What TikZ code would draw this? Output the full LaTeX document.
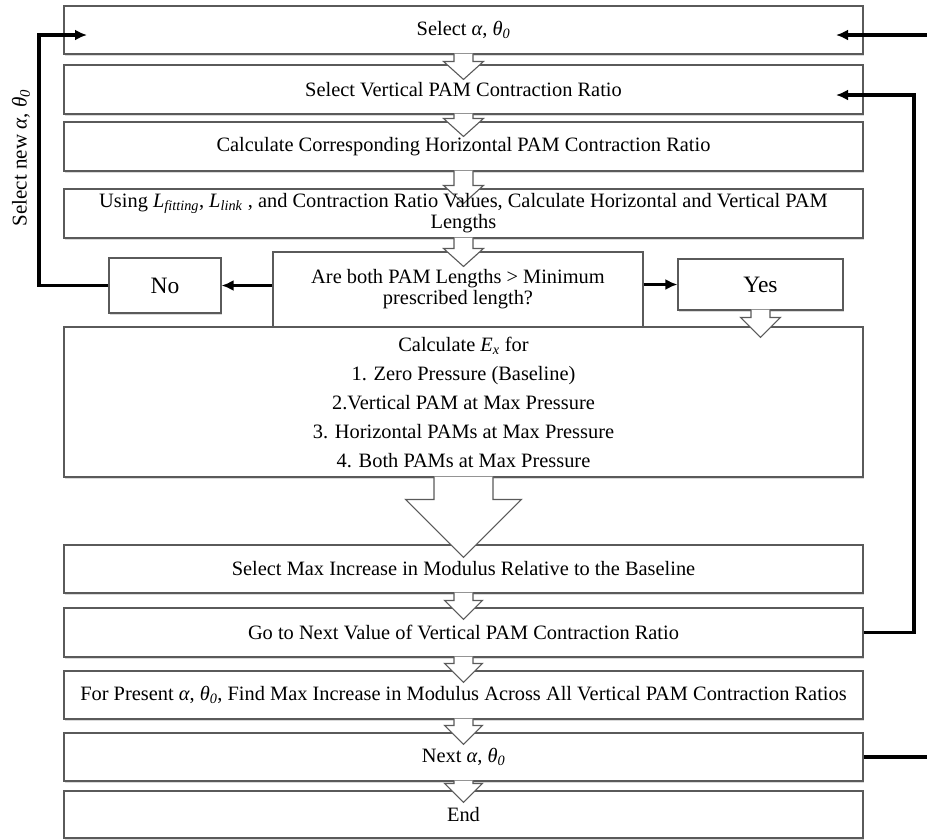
\documentclass[tikz,border=0pt]{standalone}
\usepackage{fontspec}
\setmainfont{Liberation Serif}
\usetikzlibrary{calc,arrows.meta,shadows}
\definecolor{boxgray}{HTML}{5A5A5A}
\newcommand{\fs}{\fontsize{20.4}{21}\selectfont}
\newcommand{\al}{\textit{α}}
\newcommand{\thz}{\textit{θ\textsubscript{0}}}
% hollow block arrow: #1 source, #2 target, #3 shaft half, #4 head half, #5 head length, #6 overlap into target
\newcommand{\blk}[6]{%
  \filldraw[blockarrow] let \p1=(#1.south), \p2=($(#1.south |- #2.north)+(0,#6)$) in
    (\x1-#3pt,\y1+1pt) -- (\x1-#3pt,\y2+#5pt) -- (\x1-#4pt,\y2+#5pt) -- (\x2,\y2)
    -- (\x1+#4pt,\y2+#5pt) -- (\x1+#3pt,\y2+#5pt) -- (\x1+#3pt,\y1+1pt);}
\begin{document}
\begin{tikzpicture}[x=1pt,y=-1pt,
  box/.style={draw=boxgray, line width=1.1pt, fill=white, inner sep=2pt, align=center, font=\fs,
    drop shadow={shadow xshift=1.3pt, shadow yshift=-1.5pt, opacity=0.3}},
  boxtext/.style={inner sep=2pt, align=center, font=\fs},
  bigtext/.style={font=\fontsize{23.5}{26}\selectfont},
  blockarrow/.style={draw=boxgray, line width=1.1pt, fill=white, line join=miter},
  loopline/.style={line width=3.2pt, black, -{Latex[length=12pt,width=11pt]}},
  plainline/.style={line width=3.2pt, black}]
\useasboundingbox (0,0) rectangle (927,839);
% main column
\node[box, minimum width=799pt, minimum height=48pt] (b1) at (463.5,30) {Select \al, \thz};
\node[box, minimum width=799pt, minimum height=49pt] (b2) at (463.5,89.5) {Select Vertical PAM Contraction Ratio};
\node[box, minimum width=799pt, minimum height=49pt] (b3) at (463.5,146.5) {Calculate Corresponding Horizontal PAM Contraction Ratio};
\node[box, minimum width=799pt, minimum height=49pt] (b4) at (463.5,213.5) {};
\node[box, minimum width=370pt, minimum height=75pt] (dec) at (458,289.5) {Are both PAM Lengths > Minimum\\prescribed length?};
\node[box, bigtext, minimum width=112pt, minimum height=55pt] (no) at (165,285.5) {No};
\node[box, bigtext, minimum width=165pt, minimum height=51pt] (yes) at (760.5,284.5) {Yes};
\node[box, minimum width=799pt, minimum height=150pt, font=\fontsize{20.4}{29}\selectfont] (calc) at (463.5,402) {Calculate \textit{E}\textsubscript{\textit{x}} for\\1. Zero Pressure (Baseline)\\2.Vertical PAM at Max Pressure\\3. Horizontal PAMs at Max Pressure\\4. Both PAMs at Max Pressure};
\node[box, minimum width=799pt, minimum height=48pt] (selmax) at (463.5,569) {Select Max Increase in Modulus Relative to the Baseline};
\node[box, minimum width=799pt, minimum height=49pt] (gonext) at (463.5,632.5) {Go to Next Value of Vertical PAM Contraction Ratio};
\node[box, minimum width=799pt, minimum height=48pt] (present) at (463.5,695) {For Present \al, \thz, Find Max Increase in Modulus Across All Vertical PAM Contraction Ratios};
\node[box, minimum width=799pt, minimum height=48pt] (next) at (463.5,757) {Next \al, \thz};
\node[box, minimum width=799pt, minimum height=47pt] (end) at (463.5,814.5) {End};
% hollow arrows
\blk{b1}{b2}{9.5}{20}{18}{15}
\blk{b2}{b3}{9.5}{20}{18}{15}
\blk{b3}{b4}{9.5}{20}{18}{15}
\blk{b4}{dec}{9.5}{20}{18}{15}
\blk{yes}{calc}{9.5}{20}{20}{11}
\blk{calc}{selmax}{29.5}{58}{58}{13}
\blk{selmax}{gonext}{9.5}{19}{19}{12}
\blk{gonext}{present}{9.5}{19}{19}{12}
\blk{present}{next}{9.5}{19}{19}{12}
\blk{next}{end}{9.5}{19}{19}{12}
% text of box 4, set above the arrow that runs into it
\node[boxtext] (b4t) at (b4.center) {Using \textit{L}\textsubscript{\textit{fitting}}, \textit{L}\textsubscript{\textit{link}} , and Contraction Ratio Values, Calculate Horizontal and Vertical PAM\\Lengths};
% decision branches
\draw[loopline] (dec.west |- no.east) -- (no.east);
\draw[loopline] (dec.east |- yes.west) -- (yes.west);
% left loop: select new alpha, theta
\coordinate (lcorner) at (39,35);
\coordinate (ltip) at (87,35);
\draw[loopline] (no.west) -| (lcorner) -- (ltip);
\node[rotate=90, font=\fontsize{21}{24}\selectfont] (lbl) at (21,158) {Select new \al, \thz};
% right loop: next vertical contraction ratio
\coordinate (rcorner) at (914,95);
\coordinate (rtip) at (836,95);
\draw[loopline] (gonext.east) -| (rcorner) -- (rtip);
% right: next alpha, theta (off page)
\coordinate (nedge) at (927,757);
\draw[plainline] (next.east) -- (nedge);
\coordinate (tedge) at (927,35);
\coordinate (ttip) at (836,35);
\draw[loopline] (tedge) -- (ttip);
\end{tikzpicture}
\end{document}
